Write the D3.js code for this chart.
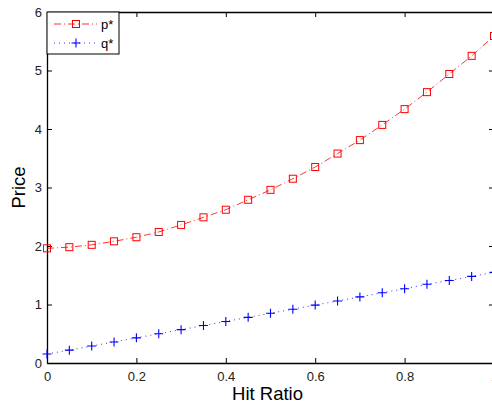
<!DOCTYPE html>
<html>
<meta charset="utf-8">
<head>
  <script src="https://d3js.org/d3.v7.min.js"></script>
</head>
<style>
  body {
    margin: 0;
    background-color: white;
  }
  text {
    font-family: 'Liberation Sans', Arial, sans-serif;
  }
</style>
<body>
<script>
  var hitRatio = [0, 0.05, 0.1, 0.15, 0.2, 0.25, 0.3, 0.35, 0.4, 0.45, 0.5,
                  0.55, 0.6, 0.65, 0.7, 0.75, 0.8, 0.85, 0.9, 0.95, 1.0];
  var pStar = [1.96, 1.98, 2.02, 2.08, 2.15, 2.24, 2.36, 2.49, 2.62, 2.79, 2.96,
               3.15, 3.35, 3.58, 3.81, 4.07, 4.34, 4.63, 4.94, 5.25, 5.59];
  var qStar = [0.155, 0.22, 0.29, 0.36, 0.43, 0.50, 0.57, 0.64, 0.71, 0.78, 0.85,
               0.92, 0.99, 1.06, 1.13, 1.20, 1.27, 1.345, 1.41, 1.48, 1.55];
  var xTicks = [0, 0.2, 0.4, 0.6, 0.8, 1];
  var yTicks = [0, 1, 2, 3, 4, 5, 6];

  var w = 492, h = 405;
  var mLeft = 47, mRight = 494, mTop = 12, mBottom = 363;

  var svg = d3.select("body").append("svg")
            .attr("width", w)
            .attr("height", h);

  var x = d3.scaleLinear().domain([0, 1]).range([mLeft, mRight]);
  var y = d3.scaleLinear().domain([0, 6]).range([mBottom, mTop]);

  // axes, ticks pointing inwards like matlab
  svg.append("g")
    .attr("transform", "translate(0," + mBottom + ")")
    .call(d3.axisBottom(x).tickValues(xTicks).tickSizeInner(-5).tickSizeOuter(0).tickPadding(9)
      .tickFormat(function(d){ return d3.format("")(d); }));
  svg.append("g")
    .attr("transform", "translate(0," + mTop + ")")
    .call(d3.axisTop(x).tickValues(xTicks).tickSizeInner(-5).tickSizeOuter(0).tickFormat(""));
  svg.append("g")
    .attr("transform", "translate(" + mLeft + ",0)")
    .call(d3.axisLeft(y).tickValues(yTicks).tickSizeInner(-5).tickSizeOuter(0).tickPadding(5)
      .tickFormat(d3.format("d")));
  svg.append("g")
    .attr("transform", "translate(" + mRight + ",0)")
    .call(d3.axisRight(y).tickValues(yTicks).tickSizeInner(-5).tickSizeOuter(0).tickFormat(""));

  svg.selectAll(".domain").attr("stroke", "black").attr("stroke-width", 1.3);
  svg.selectAll(".tick line").attr("stroke", "black").attr("stroke-width", 1);
  svg.selectAll(".tick text").attr("font-size", 13).attr("fill", "#222")
    .style("font-family", "'Liberation Sans', Arial, sans-serif");

  var pts = hitRatio.map(function(d, i){ return {x: d, p: pStar[i], q: qStar[i]}; });

  var lineP = d3.line().x(function(d){ return x(d.x) }).y(function(d){ return y(d.p) });
  var lineQ = d3.line().x(function(d){ return x(d.x) }).y(function(d){ return y(d.q) });

  svg.append("path").datum(pts)
    .attr("d", lineP)
    .attr("fill", "none")
    .attr("stroke", "red")
    .attr("stroke-width", 0.8)
    .attr("stroke-dasharray", "7,3,1,3");

  svg.append("path").datum(pts)
    .attr("d", lineQ)
    .attr("fill", "none")
    .attr("stroke", "blue")
    .attr("stroke-width", 0.8)
    .attr("stroke-dasharray", "1,4");

  svg.selectAll("rect.pm")
    .data(pts)
    .enter().append("rect")
    .attr("class", "pm")
    .attr("x", function(d){ return x(d.x) - 3.5 })
    .attr("y", function(d){ return y(d.p) - 3.5 })
    .attr("width", 7)
    .attr("height", 7)
    .attr("fill", "none")
    .attr("stroke", "red")
    .attr("stroke-width", 1);

  svg.selectAll("path.qm")
    .data(pts)
    .enter().append("path")
    .attr("class", "qm")
    .attr("d", function(d){
      var cx = x(d.x), cy = y(d.q);
      return "M" + (cx - 4.5) + "," + cy + "H" + (cx + 4.5) + "M" + cx + "," + (cy - 4.5) + "V" + (cy + 4.5);
    })
    .attr("stroke", "blue")
    .attr("stroke-width", 1.1);

  // axis labels
  svg.append("text")
    .attr("x", (mLeft + mRight) / 2 - 3)
    .attr("y", 400)
    .attr("text-anchor", "middle")
    .attr("font-size", 18.5)
    .text("Hit Ratio");

  svg.append("text")
    .attr("transform", "translate(25," + (mTop + mBottom) / 2 + ") rotate(-90)")
    .attr("text-anchor", "middle")
    .attr("font-size", 18.5)
    .text("Price");

  // legend
  var leg = svg.append("g");
  leg.append("rect")
    .attr("x", mLeft).attr("y", mTop)
    .attr("width", 72).attr("height", 42)
    .attr("fill", "white").attr("stroke", "black").attr("stroke-width", 1);

  leg.append("line").attr("x1", 54).attr("x2", 97).attr("y1", 24).attr("y2", 24)
    .attr("stroke", "red").attr("stroke-width", 0.8).attr("stroke-dasharray", "7,3,1,3");
  leg.append("rect").attr("x", 76 - 3.5).attr("y", 24 - 3.5).attr("width", 7).attr("height", 7)
    .attr("fill", "none").attr("stroke", "red");
  leg.append("text").attr("x", 101).attr("y", 29).attr("font-size", 13).text("p*");

  leg.append("line").attr("x1", 54).attr("x2", 97).attr("y1", 43).attr("y2", 43)
    .attr("stroke", "blue").attr("stroke-width", 0.8).attr("stroke-dasharray", "1,4");
  leg.append("path").attr("d", "M71.5,43H80.5M76,38.5V47.5")
    .attr("stroke", "blue").attr("stroke-width", 1.1);
  leg.append("text").attr("x", 101).attr("y", 48).attr("font-size", 13).text("q*");
</script>
</body>
</html>
